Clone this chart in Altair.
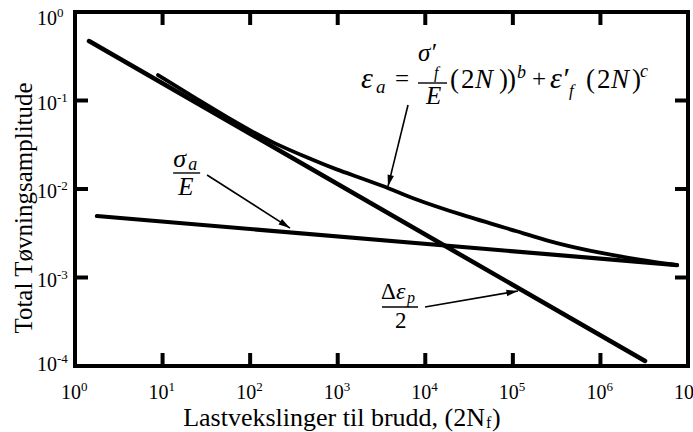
import math
import altair as alt
import pandas as pd

# ---------------- data ----------------
cycle_ticks = [1, 10, 100, 1e3, 1e4, 1e5, 1e6, 1e7]
cycle_exps = ["0", "1", "2", "3", "4", "5", "6", "7"]
strain_ticks = [1, 0.1, 0.01, 1e-3, 1e-4]
strain_exps = ["0", "-1", "-2", "-3", "-4"]

plastic_n = [1.445, 3.23e6]
plastic_e = [0.470, 1.14e-4]
elastic_n = [1.78, 7.49e6]
elastic_e = [4.95e-3, 1.38e-3]
total_n = [8.87, 26.8, 76.6, 182, 522, 816, 3656, 6694, 24920, 120700, 345000, 988000, 2.83e6, 7.49e6]
total_e = [0.194, 0.0987, 0.0529, 0.0330, 0.0213, 0.0176, 0.0105, 8.0e-3, 5.15e-3,
           3.25e-3, 2.36e-3, 1.90e-3, 1.58e-3, 1.38e-3]

# annotation arrows (tail -> head), in data units
arrow_from_n = [6350, 32.2, 9930]
arrow_from_e = [0.0889, 0.01439, 4.64e-4]
arrow_to_n = [3752, 285, 114500]
arrow_to_e = [0.0107, 3.62e-3, 7.04e-4]

# annotation anchors, in data units
formula_at = (1893, 0.1384)
sigma_at = (13.2, 0.01773)
delta_at = (3206, 5.71e-4)

# ---------------- geometry / style ----------------
W, H = 613, 354
PXD_X = W / 7.0
PXD_Y = H / 4.0
SERIF = "Liberation Serif"

XS = alt.Scale(type="log", domain=[1, 1e7])
YS = alt.Scale(type="log", domain=[1e-4, 1])
X = alt.X("n:Q", scale=XS, axis=None)
Y = alt.Y("e:Q", scale=YS, axis=None)
X2 = alt.X2("n2:Q")


def df(**cols):
    return pd.DataFrame(cols)


def shift(n, e, dx, dy):
    return n * 10 ** (dx / PXD_X), e * 10 ** (-dy / PXD_Y)


layers = []

# ---- curves ----
layers.append(alt.Chart(df(n=plastic_n, e=plastic_e)).mark_line(
    color="black", strokeWidth=4.5, strokeCap="round").encode(x=X, y=Y))
layers.append(alt.Chart(df(n=elastic_n, e=elastic_e)).mark_line(
    color="black", strokeWidth=4.2, strokeCap="round").encode(x=X, y=Y))
layers.append(alt.Chart(df(n=total_n, e=total_e)).mark_line(
    color="black", strokeWidth=3.8, strokeCap="round", interpolate="basis").encode(x=X, y=Y))

# ---- inward ticks ----
inner_x = [t for t in cycle_ticks if 1 < t < 1e7]
inner_y = [t for t in strain_ticks if 1e-4 < t < 1]
TL = 13
layers.append(alt.Chart(df(n=inner_x)).mark_rule(color="black", strokeWidth=4).encode(
    x=X, y=alt.value(H), y2=alt.value(H - TL)))
layers.append(alt.Chart(df(n=inner_x)).mark_rule(color="black", strokeWidth=4).encode(
    x=X, y=alt.value(0), y2=alt.value(TL)))
layers.append(alt.Chart(df(e=inner_y)).mark_rule(color="black", strokeWidth=4).encode(
    y=Y, x=alt.value(0), x2=alt.value(TL)))
layers.append(alt.Chart(df(e=inner_y)).mark_rule(color="black", strokeWidth=4).encode(
    y=Y, x=alt.value(W), x2=alt.value(W - TL)))

# ---- tick labels (10 with raised exponent) ----
xl = df(n=cycle_ticks, lab=cycle_exps)
layers.append(alt.Chart(xl).mark_text(text="10", font=SERIF, fontSize=20, align="right",
                                      baseline="alphabetic", dx=6, color="black").encode(
    x=X, y=alt.value(387)))
layers.append(alt.Chart(xl).mark_text(font=SERIF, fontSize=13, align="left",
                                      baseline="alphabetic", dx=6, color="black").encode(
    x=X, y=alt.value(379), text="lab:N"))

yl = df(e=strain_ticks, lab=strain_exps)
for flt, off in [("datum.e == 1", 13), ("datum.e < 1 && datum.e > 0.0002", 9), ("datum.e < 0.0002", 5)]:
    base = alt.Chart(yl).transform_filter(flt)
    layers.append(base.mark_text(text="10", font=SERIF, fontSize=20, align="right",
                                 baseline="alphabetic", dy=off, color="black").encode(
        y=Y, x=alt.value(-18)))
    layers.append(base.mark_text(font=SERIF, fontSize=13, align="left",
                                 baseline="alphabetic", dy=off - 8, color="black").encode(
        y=Y, x=alt.value(-18), text="lab:N"))


# ---- annotation helpers ----
def piece(anchor, text, dx, dy, size, italic=False):
    return alt.Chart(df(n=[anchor[0]], e=[anchor[1]])).mark_text(
        text=text, dx=dx, dy=dy, fontSize=size, font=SERIF,
        fontStyle="italic" if italic else "normal", align="left",
        baseline="alphabetic", color="black").encode(x=X, y=Y)


def bar(anchor, dx1, dx2, dy):
    a = shift(anchor[0], anchor[1], dx1, dy)
    b = shift(anchor[0], anchor[1], dx2, dy)
    return alt.Chart(df(n=[a[0]], n2=[b[0]], e=[a[1]])).mark_rule(
        color="black", strokeWidth=1.4).encode(x=X, x2=X2, y=Y)


# formula  eps_a = sigma'_f / E (2N))^b + eps'_f (2N)^c
F = formula_at
layers += [
    piece(F, "ε", -1, 0, 30, True),
    piece(F, "a", 14, 5, 19, True),
    piece(F, "=", 33, -1, 25),
    piece(F, "σ′", 56, -27, 25, True),
    piece(F, "f", 72, -10, 16, True),
    bar(F, 56, 85, -5),
    piece(F, "E", 64, 16, 25, True),
    piece(F, "(", 88, 0, 27),
    piece(F, "2", 99, 0, 27),
    piece(F, "N", 113, 0, 27, True),
    piece(F, ")", 137, 0, 27),
    piece(F, ")", 145, 0, 27),
    piece(F, "b", 155, -10, 18, True),
    piece(F, "+", 170, -1, 25),
    piece(F, "ε′", 188, 0, 30, True),
    piece(F, "f", 207, 8, 17, True),
    piece(F, "(", 224, 0, 27),
    piece(F, "2", 235, 0, 27),
    piece(F, "N", 249, 0, 27, True),
    piece(F, ")", 270, 0, 27),
    piece(F, "c", 278, -11, 18, True),
]

# sigma_a / E
S = sigma_at
layers += [
    piece(S, "σ", 0, 0, 26, True),
    piece(S, "a", 15, 3, 18, True),
    bar(S, 0, 27, 6),
    piece(S, "E", 5, 28, 25, True),
]

# delta eps_p / 2
D = delta_at
layers += [
    piece(D, "Δ", -1, 0, 23),
    piece(D, "ε", 14, 0, 24, True),
    piece(D, "p", 25, 4, 16, True),
    bar(D, 0, 36, 8),
    piece(D, "2", 13, 29, 23),
]

# ---- arrows ----
ARROW = "M0,0L-0.65,2.3L0.65,2.3Z"
for i in range(len(arrow_from_n)):
    n1, e1, n2, e2 = arrow_from_n[i], arrow_from_e[i], arrow_to_n[i], arrow_to_e[i]
    layers.append(alt.Chart(df(n=[n1, n2], e=[e1, e2], o=[0, 1])).mark_line(
        color="black", strokeWidth=1.6).encode(x=X, y=Y, order="o:Q"))
    pdx = (math.log10(n2) - math.log10(n1)) * PXD_X
    pdy = -(math.log10(e2) - math.log10(e1)) * PXD_Y
    ang = math.degrees(math.atan2(pdx, -pdy)) % 360
    layers.append(alt.Chart(df(n=[n2], e=[e2])).mark_point(
        shape=ARROW, filled=True, color="black", opacity=1, size=100, angle=ang,
        strokeWidth=0).encode(x=X, y=Y))

# ---- axis titles ----
layers.append(alt.Chart(df(n=[1])).mark_text(
    text="Lastvekslinger til brudd, (2N", font=SERIF, fontSize=26, align="right",
    baseline="alphabetic", color="black").encode(x=alt.value(410), y=alt.value(414)))
layers.append(alt.Chart(df(n=[1])).mark_text(
    text="f", font=SERIF, fontSize=16, align="left",
    baseline="alphabetic", color="black").encode(x=alt.value(411), y=alt.value(416)))
layers.append(alt.Chart(df(n=[1])).mark_text(
    text=")", font=SERIF, fontSize=26, align="left",
    baseline="alphabetic", color="black").encode(x=alt.value(417), y=alt.value(414)))
layers.append(alt.Chart(df(n=[1])).mark_text(
    text="Total Tøvningsamplitude", font=SERIF, fontSize=25, align="center",
    baseline="middle", angle=270, color="black").encode(x=alt.value(-51), y=alt.value(196)))

chart = alt.layer(*layers).properties(
    width=W, height=H,
    autosize=alt.AutoSizeParams(type="none"),
    padding={"left": 75, "top": 12, "right": 5, "bottom": 66},
    background="white",
).configure_view(stroke="black", strokeWidth=4)

chart.save("out.html", embed_options={"renderer": "svg", "actions": False})
